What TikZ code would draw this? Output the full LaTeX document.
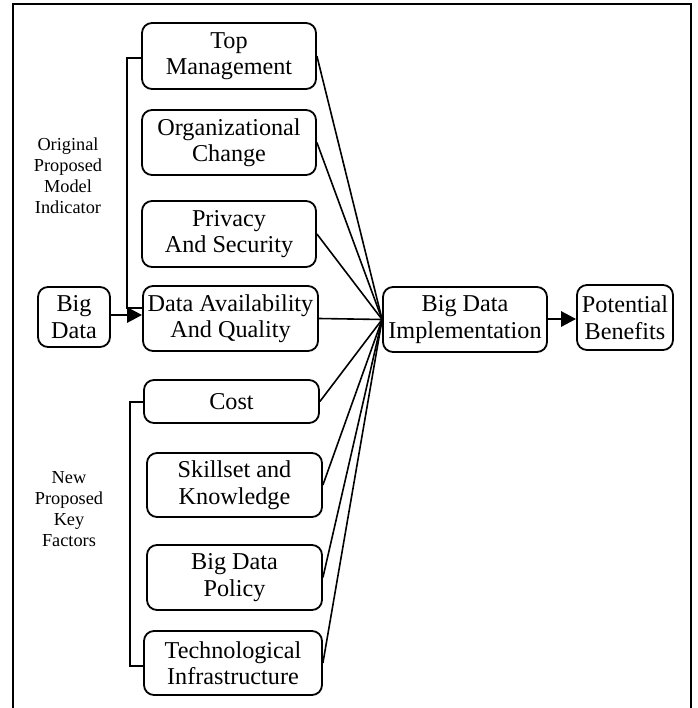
\documentclass[tikz,border=0pt]{standalone}
\usepackage{fontspec}
\setmainfont{Liberation Serif}
\usetikzlibrary{arrows.meta}
\begin{document}
\begin{tikzpicture}[x=1pt,y=-1pt,
  box/.style={draw,line width=1.8pt,rounded corners=10pt,inner sep=0pt,align=center,
    font=\fontsize{24.2}{26.5}\selectfont},
  conn/.style={line width=1.6pt},
  lbl/.style={align=center,font=\fontsize{18.3}{21}\selectfont},
  arr/.style={line width=2.8pt,-{Triangle[length=15pt,width=15pt]}}]
\useasboundingbox (0,0) rectangle (697,708);
\draw[line width=2pt] (13,708) -- (13,4) -- (691,4) -- (691,708);
% boxes
\node[box,minimum width=174pt,minimum height=66pt] (tm) at (229,56) {Top\\Management};
\node[box,minimum width=174pt,minimum height=65pt] (oc) at (229,142.5) {Organizational\\Change};
\node[box,minimum width=174pt,minimum height=66pt] (ps) at (229,234) {Privacy\\And Security};
\node[box,minimum width=175pt,minimum height=65pt] (da) at (230.5,318.5) {Data Availability\\And Quality};
\node[box,minimum width=72pt,minimum height=60pt] (bd) at (74,317) {Big\\Data};
\node[box,minimum width=175pt,minimum height=43pt] (co) at (231.5,401.5) {Cost};
\node[box,minimum width=175pt,minimum height=64pt] (sk) at (234.5,485) {Skillset and\\Knowledge};
\node[box,minimum width=175pt,minimum height=65pt] (po) at (234.5,577.5) {Big Data\\Policy};
\node[box,minimum width=178pt,minimum height=64pt] (ti) at (233,663) {Technological\\Infrastructure};
\node[box,minimum width=164pt,minimum height=65pt] (bi) at (465,319.5) {Big Data\\Implementation};
\node[box,minimum width=96pt,minimum height=65pt] (pb) at (625,317.5) {Potential\\Benefits};
% labels
\node[lbl] (l1) at (68,176) {Original\\Proposed\\Model\\Indicator};
\node[lbl] (l2) at (69,509) {New\\Proposed\\Key\\Factors};
% brackets
\coordinate (b1) at (127,58);
\coordinate (b2) at (127,308);
\draw[conn] (tm.west |- b1) -- (b1) -- (b2) -- (da.west |- b2);
\coordinate (c1) at (130,402);
\coordinate (c2) at (130,666);
\draw[conn] (co.west |- c1) -- (c1) -- (c2) -- (ti.west |- c2);
% arrows
\draw[arr] (bd.east |- 0,315) -- (da.west |- 0,315);
\draw[arr] (bi.east |- 0,319) -- (pb.west |- 0,319);
% converging lines
\coordinate (cv) at (bi.west);
\foreach \n in {tm,oc,ps,da,co,sk,po,ti}
  \draw[conn] (\n.east) -- (cv);
\end{tikzpicture}
\end{document}
